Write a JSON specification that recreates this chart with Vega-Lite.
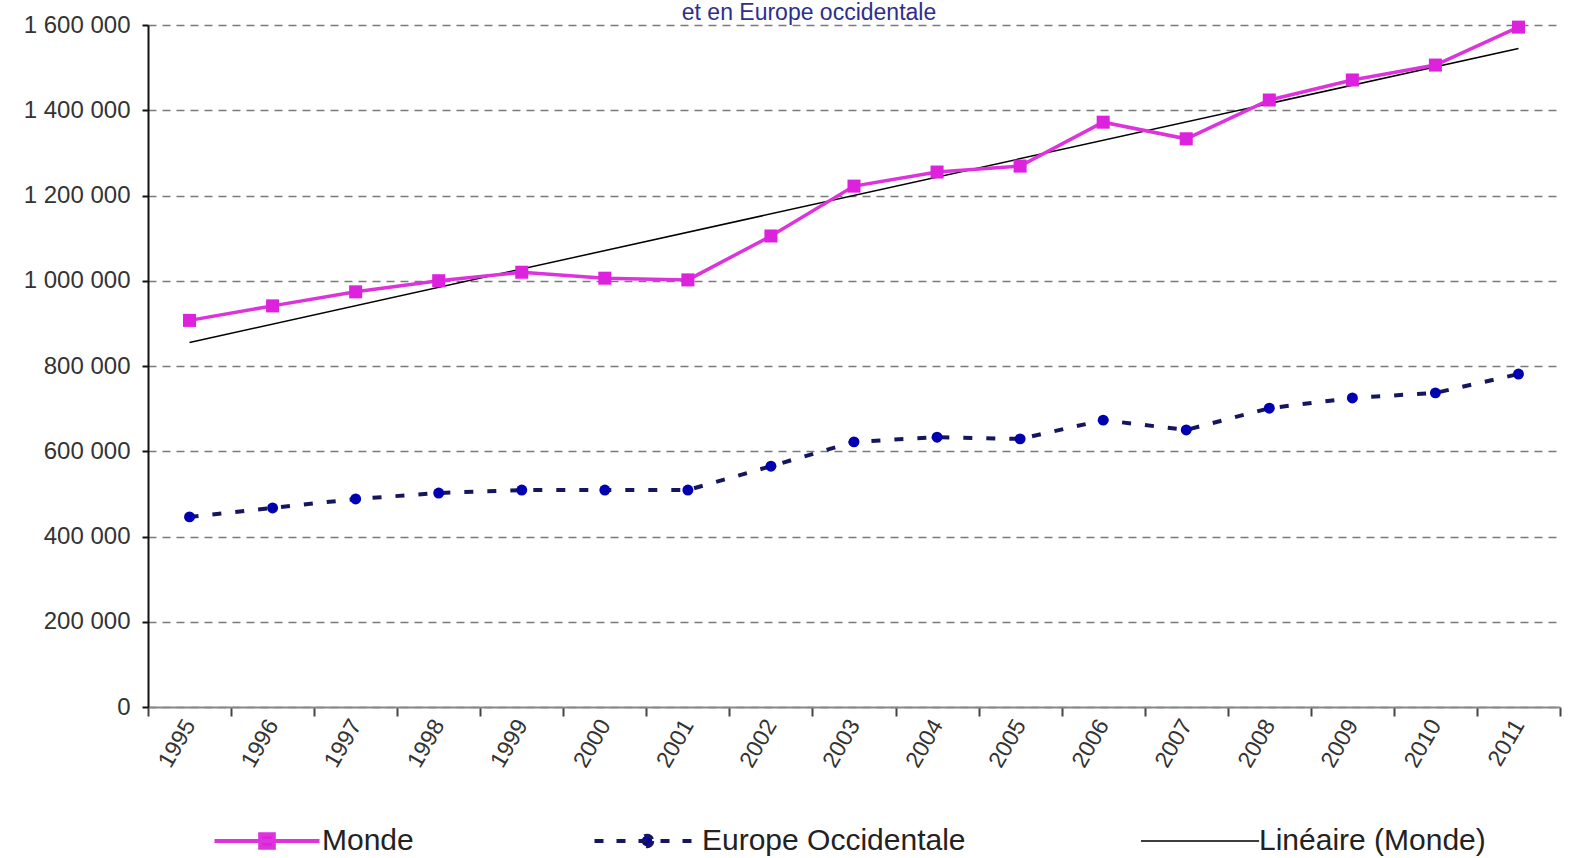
{
  "$schema": "https://vega.github.io/schema/vega-lite/v6.json",
  "width": 1412,
  "height": 682,
  "autosize": {"type": "none"},
  "padding": {"left": 148, "top": 25, "right": 27, "bottom": 151},
  "background": "white",
  "title": {
    "text": "et en Europe occidentale",
    "font": "Liberation Sans",
    "fontSize": 23,
    "fontWeight": "normal",
    "color": "#2e2e8e",
    "anchor": "middle",
    "frame": "group",
    "dx": -45,
    "dy": 30,
    "offset": 0,
    "baseline": "alphabetic"
  },
  "config": {
    "view": {"stroke": null},
    "locale": {"number": {"decimal": ",", "thousands": " ", "grouping": [3], "currency": ["", " €"]}},
    "font": "Liberation Sans"
  },
  "data": {
    "values": [
      {"year": 1995, "series": "Monde", "value": 907000},
      {"year": 1996, "series": "Monde", "value": 941000},
      {"year": 1997, "series": "Monde", "value": 974000},
      {"year": 1998, "series": "Monde", "value": 1000000},
      {"year": 1999, "series": "Monde", "value": 1020000},
      {"year": 2000, "series": "Monde", "value": 1006000},
      {"year": 2001, "series": "Monde", "value": 1002000},
      {"year": 2002, "series": "Monde", "value": 1105000},
      {"year": 2003, "series": "Monde", "value": 1222000},
      {"year": 2004, "series": "Monde", "value": 1255000},
      {"year": 2005, "series": "Monde", "value": 1269000},
      {"year": 2006, "series": "Monde", "value": 1372000},
      {"year": 2007, "series": "Monde", "value": 1333000},
      {"year": 2008, "series": "Monde", "value": 1424000},
      {"year": 2009, "series": "Monde", "value": 1471000},
      {"year": 2010, "series": "Monde", "value": 1506000},
      {"year": 2011, "series": "Monde", "value": 1595000},
      {"year": 1995, "series": "Europe Occidentale", "value": 446000},
      {"year": 1996, "series": "Europe Occidentale", "value": 467000},
      {"year": 1997, "series": "Europe Occidentale", "value": 488000},
      {"year": 1998, "series": "Europe Occidentale", "value": 502000},
      {"year": 1999, "series": "Europe Occidentale", "value": 509000},
      {"year": 2000, "series": "Europe Occidentale", "value": 509000},
      {"year": 2001, "series": "Europe Occidentale", "value": 509000},
      {"year": 2002, "series": "Europe Occidentale", "value": 565000},
      {"year": 2003, "series": "Europe Occidentale", "value": 622000},
      {"year": 2004, "series": "Europe Occidentale", "value": 633000},
      {"year": 2005, "series": "Europe Occidentale", "value": 629000},
      {"year": 2006, "series": "Europe Occidentale", "value": 673000},
      {"year": 2007, "series": "Europe Occidentale", "value": 650000},
      {"year": 2008, "series": "Europe Occidentale", "value": 701000},
      {"year": 2009, "series": "Europe Occidentale", "value": 725000},
      {"year": 2010, "series": "Europe Occidentale", "value": 737000},
      {"year": 2011, "series": "Europe Occidentale", "value": 781000}
    ]
  },
  "encoding": {
    "x": {
      "field": "year",
      "type": "ordinal",
      "bandPosition": 0.5,
      "scale": {"type": "band", "paddingInner": 0, "paddingOuter": 0},
      "axis": {
        "title": null,
        "tickBand": "extent",
        "labelAngle": -60,
        "labelAlign": "right",
        "labelBaseline": "middle",
        "labelFontSize": 23,
        "labelColor": "#333333",
        "labelPadding": 5,
        "tickColor": "#444444",
        "tickSize": 9,
        "tickWidth": 2,
        "domainColor": "#888888",
        "domainWidth": 2,
        "grid": false
      }
    },
    "y": {
      "field": "value",
      "type": "quantitative",
      "scale": {"domain": [0, 1600000], "nice": false},
      "axis": {
        "title": null,
        "values": [0, 200000, 400000, 600000, 800000, 1000000, 1200000, 1400000, 1600000],
        "format": ",d",
        "labelFontSize": 24,
        "labelColor": "#333333",
        "labelPadding": 12,
        "tickColor": "#111111",
        "tickSize": 6,
        "tickWidth": 2,
        "domainColor": "#111111",
        "domainWidth": 2,
        "grid": true,
        "gridColor": "#7a7a7a",
        "gridDash": [8, 6],
        "gridWidth": 1.5
      }
    },
    "color": {
      "field": "series",
      "type": "nominal",
      "scale": {
        "domain": ["Monde", "Europe Occidentale", "Linéaire (Monde)"],
        "range": ["#dd33dd", "#16165e", "#000000"]
      },
      "legend": {
        "title": null,
        "orient": "none",
        "direction": "horizontal",
        "legendX": 104,
        "legendY": 801,
        "padding": 0,
        "columnPadding": 172,
        "labelFontSize": 30,
        "labelColor": "#222222",
        "labelOffset": 40,
        "symbolSize": 11025,
        "symbolType": "M-1,0H1",
        "labelLimit": 400,
        "encode": {
          "symbols": {
            "update": {
              "shape": {"signal": "datum.value == 'Monde' ? 'M-1,0H1M-0.13,-0.13H0.13V0.13H-0.13Z' : datum.value == 'Europe Occidentale' ? 'M-1,0H1M0.1,0A0.1,0.1 0 1,1 -0.1,0A0.1,0.1 0 1,1 0.1,0Z' : 'M-1.2,0H1.05'"},
              "stroke": {"signal": "datum.value == 'Monde' ? '#dd33dd' : datum.value == 'Europe Occidentale' ? '#1a1a8a' : '#000000'"},
              "fill": {"signal": "datum.value == 'Monde' ? '#dd22dd' : datum.value == 'Europe Occidentale' ? '#0000b0' : 'transparent'"},
              "strokeWidth": {"signal": "datum.value == 'Linéaire (Monde)' ? 1.5 : 4"},
              "strokeDash": {"signal": "datum.value == 'Europe Occidentale' ? [9, 13] : [1, 0]"},
              "opacity": {"value": 1}
            }
          }
        }
      }
    }
  },
  "layer": [
    {
      "transform": [{"filter": "datum.series == 'Europe Occidentale'"}],
      "mark": {"type": "line", "strokeWidth": 4, "strokeDash": [9, 14]}
    },
    {
      "transform": [{"filter": "datum.series == 'Europe Occidentale'"}],
      "mark": {"type": "point", "shape": "circle", "filled": true, "size": 120, "opacity": 1},
      "encoding": {"color": {"value": "#0000b0"}}
    },
    {
      "transform": [{"filter": "datum.series == 'Monde'"}, {"regression": "value", "on": "year"}],
      "mark": {"type": "line", "strokeWidth": 1.5},
      "encoding": {"color": {"datum": "Linéaire (Monde)"}}
    },
    {
      "transform": [{"filter": "datum.series == 'Monde'"}],
      "mark": {"type": "line", "strokeWidth": 3.5}
    },
    {
      "transform": [{"filter": "datum.series == 'Monde'"}],
      "mark": {"type": "point", "shape": "square", "filled": true, "size": 170, "opacity": 1},
      "encoding": {"color": {"value": "#dd22dd"}}
    }
  ]
}
